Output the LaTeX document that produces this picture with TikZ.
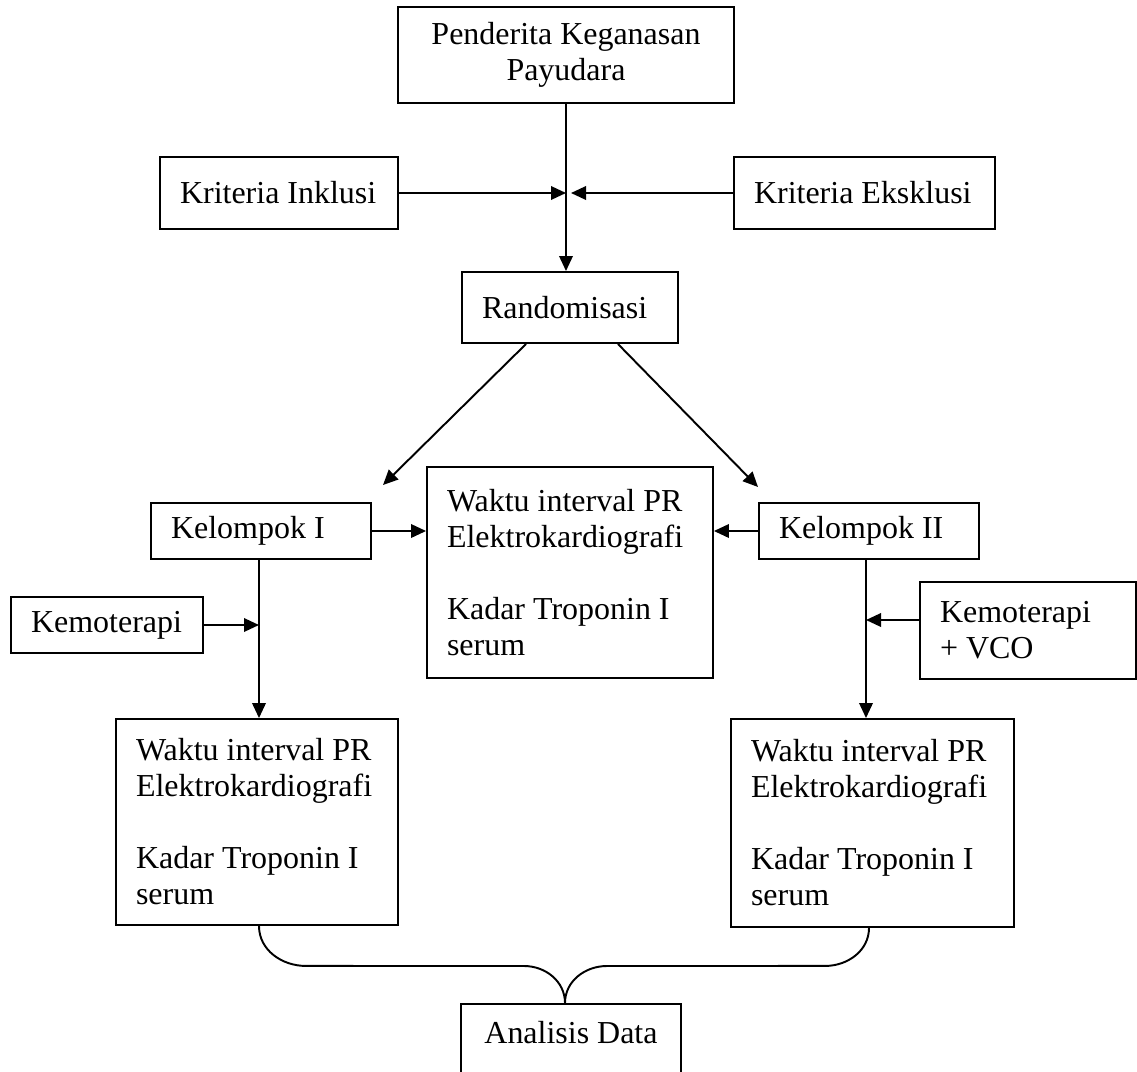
\documentclass[tikz,border=0pt]{standalone}
\usepackage{fontspec}
\setmainfont{Liberation Serif}
\usepackage{tikz}
\usetikzlibrary{arrows.meta,positioning,calc}

\tikzset{
	box/.style={draw, line width=1.1pt, align=flush left, inner xsep=0.4cm, inner ysep=0pt,
		font=\fontsize{18.2}{20.5}\selectfont},
	arr/.style={line width=1.1pt, -{Triangle[length=0.3cm,width=0.27cm]}},
	link/.style={line width=1.1pt}
}

\begin{document}
\begin{tikzpicture}[x=0.02cm,y=-0.02cm]
			\useasboundingbox (0,0) rectangle (1137,1072);
			
			\node[box, align=flush center, text width=5.92cm, minimum height=1.92cm] (pasien) at (566,55) {Penderita Keganasan\\Payudara};
			\node[box, inner xsep=0.3cm, text width=4.16cm, minimum height=1.44cm] (inklusi) at (279,193) {\hspace*{0.1cm}Kriteria Inklusi};
			\node[box, text width=4.42cm, minimum height=1.44cm] (eksklusi) at (864.5,193) {Kriteria Eksklusi};
			\node[box, text width=3.52cm, minimum height=1.42cm] (acak) at (570,307.5) {Randomisasi};
			
			\node[box, text width=3.6cm, minimum height=1.12cm] (kel1) at (261,531) {Kelompok I};
			\node[box, text width=3.6cm, minimum height=1.12cm] (kel2) at (869,531) {Kelompok II};
			\node[box, text width=4.92cm, minimum height=4.22cm] (awal) at (570,572.5) {Waktu interval PR\\Elektrokardiografi\\[\baselineskip]Kadar Troponin I\\serum};
			
			\node[box, text width=3.04cm, minimum height=1.12cm] (kemo1) at (107,625) {Kemoterapi};
			\node[box, text width=3.52cm, minimum height=1.94cm] (kemo2) at (1028,630.5) {Kemoterapi\\+ VCO};
			
			\node[box, text width=4.84cm, minimum height=4.12cm] (hasil1) at (257,822) {Waktu interval PR\\Elektrokardiografi\\[\baselineskip]Kadar Troponin I\\serum};
			\node[box, text width=4.86cm, minimum height=4.16cm] (hasil2) at (872.5,823) {Waktu interval PR\\Elektrokardiografi\\[\baselineskip]Kadar Troponin I\\serum};
			
			\node[box, align=flush center, text width=3.6cm, anchor=north, inner ysep=0.4cm, text height=0.4cm, text depth=2cm] (analisis) at (571,1003) {Analisis Data};
			
			% alur utama
			\coordinate (temu) at (pasien.south |- inklusi.east);
			\draw[arr] (pasien.south) -- (pasien.south |- acak.north);
			\draw[arr] (inklusi.east) -- (temu);
			\draw[arr] (eksklusi.east -| eksklusi.west) -- ($(temu)+(5,0)$);
			
			% randomisasi
			\coordinate (ujung1) at (383,485);
			\coordinate (ujung2) at (758,487);
			\draw[arr] ($(acak.south west)+(65,0)$) -- (ujung1);
			\draw[arr] ($(acak.south east)+(-61,0)$) -- (ujung2);
			
			\draw[arr] (kel1.east) -- (kel1.east -| awal.west);
			\draw[arr] (kel2.west) -- (kel2.west -| awal.east);
			
			% perlakuan
			\coordinate (jalur1) at ($(kel1.south)+(-2,0)$);
			\coordinate (jalur2) at ($(kel2.south)+(-3,0)$);
			\draw[arr] (jalur1) -- (jalur1 |- hasil1.north);
			\draw[arr] (jalur2) -- (jalur2 |- hasil2.north);
			\draw[arr] (kemo1.east) -- (kemo1.east -| jalur1);
			\draw[arr] (kemo2.west |- 0,620) -- (jalur2 |- 0,620);
			
			% kurung ke analisis
			\coordinate (puncak) at ($(analisis.north)+(-6,0)$);
			\draw[link] (jalur1 |- hasil1.south) to[out=-90,in=180] ++(47,40) -- ($(puncak)+(-41,-37)$) to[out=0,in=90] (puncak);
			\draw[link] ($(jalur2 |- hasil2.south)+(3,0)$) to[out=-90,in=0] ++(-44,38) -- ($(puncak)+(42,-37)$) to[out=180,in=90] (puncak);
			
		\end{tikzpicture}
\end{document}
